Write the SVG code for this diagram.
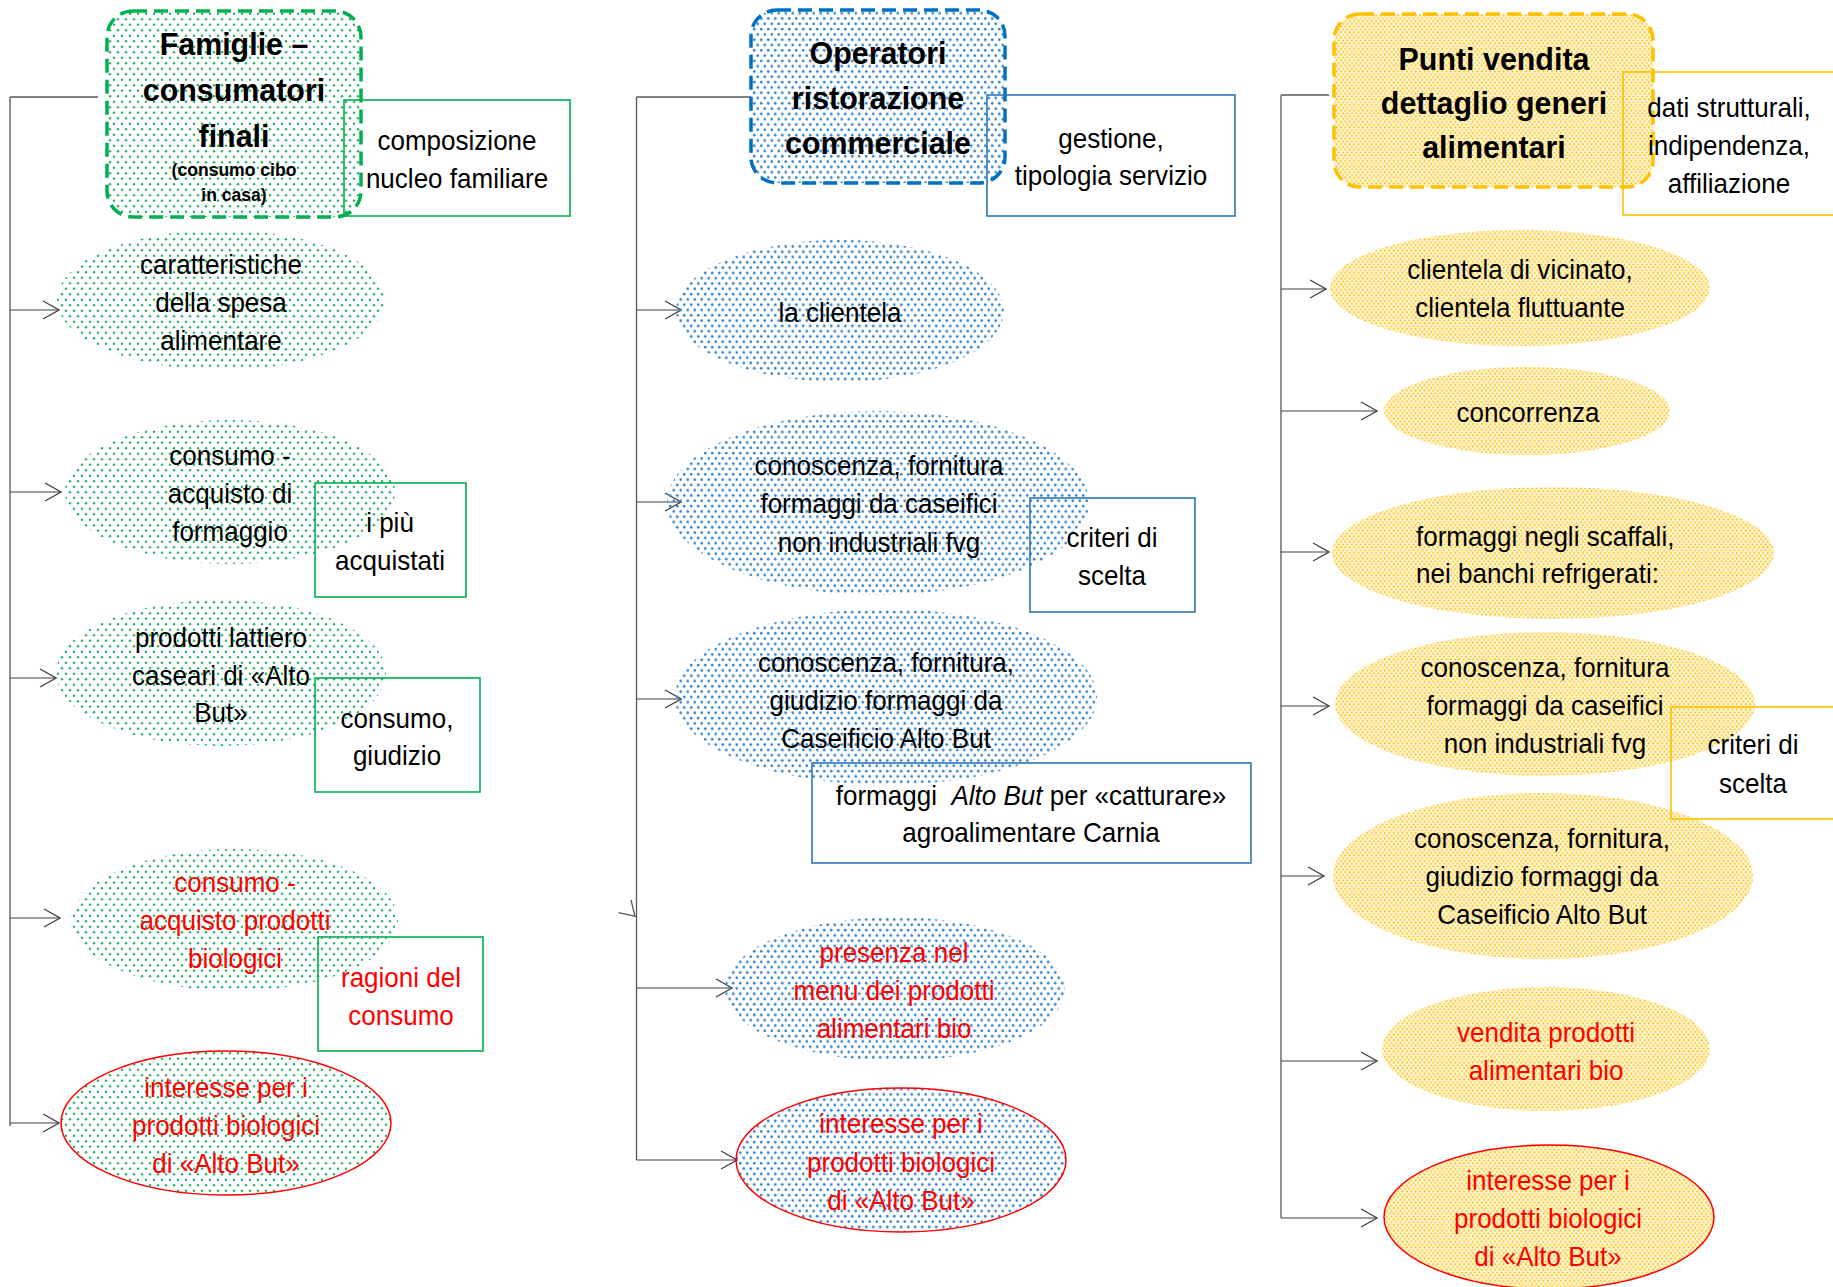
<svg xmlns="http://www.w3.org/2000/svg" width="1833" height="1287" viewBox="0 0 1833 1287">
<style>
.t{font-family:"Liberation Sans",Arial,sans-serif;font-size:28px;text-anchor:middle;fill:#000}
.r{fill:#FF0000}
.h{font-weight:bold;font-size:32px}
.s{font-weight:bold;font-size:18.5px}
.ln{fill:none;stroke:#595959;stroke-width:1.3}
.ar{fill:none;stroke:#404040;stroke-width:1.1;marker-end:url(#arr)}
.hg{fill:url(#dg);stroke:#00B050;stroke-width:3.5;stroke-dasharray:14 7}
.hb{fill:url(#db);stroke:#0070C0;stroke-width:3.5;stroke-dasharray:14 7}
.hy{fill:url(#dy);stroke:#FFC000;stroke-width:3.5;stroke-dasharray:14 7}
.bg{fill:none;stroke:#00B050;stroke-width:1.6}
.bb{fill:none;stroke:#2E75B6;stroke-width:1.6}
.by{fill:none;stroke:#FFC000;stroke-width:1.6}
.eg{fill:url(#dg)}
.eb{fill:url(#db)}
.ey{fill:url(#dy)}
.rs{stroke:#FF0000;stroke-width:1.5}
</style>
<defs>
<pattern id="dg" width="8" height="11" patternUnits="userSpaceOnUse"><circle cx="2" cy="2.75" r="1.25" fill="#2DB56A"/><circle cx="6" cy="8.25" r="1.25" fill="#2DB56A"/></pattern>
<pattern id="db" width="7" height="10.6" patternUnits="userSpaceOnUse"><circle cx="1.75" cy="2.65" r="1.4" fill="#3D8AD0"/><circle cx="5.25" cy="7.95" r="1.4" fill="#3D8AD0"/></pattern>
<pattern id="dy" width="4.4" height="5.6" patternUnits="userSpaceOnUse"><rect width="4.4" height="5.6" fill="#FFC000" fill-opacity="0.12"/><circle cx="1.1" cy="1.4" r="1.05" fill="#FFC000"/><circle cx="3.3" cy="4.2" r="1.05" fill="#FFC000"/></pattern>
<marker id="arr" viewBox="0 0 18 20" refX="17" refY="10" markerWidth="18" markerHeight="20" markerUnits="userSpaceOnUse" orient="auto"><path d="M1,1 L17,10 L1,19" fill="none" stroke="#404040" stroke-width="1.2"/></marker>
</defs>
<rect width="1833" height="1287" fill="#fff"/>
<g id="connectors">
<path class="ln" d="M10,97 H98 M10,97 V1126"/>
<path class="ar" d="M10,310 H59"/>
<path class="ar" d="M10,492 H61"/>
<path class="ar" d="M10,678 H56"/>
<path class="ar" d="M10,918 H60"/>
<path class="ar" d="M10,1123 H59"/>
<path class="ln" d="M636.5,97 H751 M636.5,97 V1160"/>
<path class="ar" d="M636.5,310 H681"/>
<path class="ar" d="M636.5,502 H681"/>
<path class="ar" d="M636.5,699 H681"/>
<path class="ar" d="M636.5,988 H732"/>
<path class="ar" d="M636.5,1160 H737"/>
<path class="ln" d="M618.6,912.7 L636.5,916.7 M631,900 L635,916.7"/>
<path class="ln" d="M1281,95 H1329 M1281,95 V1218"/>
<path class="ar" d="M1281,289 H1326"/>
<path class="ar" d="M1281,411 H1377"/>
<path class="ar" d="M1281,552 H1329"/>
<path class="ar" d="M1281,706 H1329"/>
<path class="ar" d="M1281,876 H1324"/>
<path class="ar" d="M1281,1061 H1377"/>
<path class="ar" d="M1281,1218 H1377"/>
</g>
<g id="famiglie"><rect class="hg" x="107" y="11" width="254" height="206" rx="26"/><text class="t h" transform="translate(234 0) scale(0.95 1)"><tspan x="0" y="55">Famiglie –</tspan><tspan x="0" y="101">consumatori</tspan><tspan x="0" y="147">finali</tspan><tspan x="0" y="176" class="s">(consumo cibo</tspan><tspan x="0" y="201" class="s">in casa)</tspan></text></g>
<g id="caratteristiche"><ellipse class="eg" cx="221" cy="300" rx="164" ry="70"/><text class="t" transform="translate(221 0) scale(0.93 1)"><tspan x="0" y="274">caratteristiche</tspan><tspan x="0" y="312">della spesa</tspan><tspan x="0" y="350">alimentare</tspan></text></g>
<g id="consumo-formaggio"><ellipse class="eg" cx="230" cy="492" rx="165" ry="72"/><text class="t" transform="translate(230 0) scale(0.93 1)"><tspan x="0" y="465">consumo -</tspan><tspan x="0" y="503">acquisto di</tspan><tspan x="0" y="541">formaggio</tspan></text></g>
<g id="lattiero"><ellipse class="eg" cx="221" cy="673" rx="165" ry="73"/><text class="t" transform="translate(221 0) scale(0.93 1)"><tspan x="0" y="647">prodotti lattiero</tspan><tspan x="0" y="685">caseari di «Alto</tspan><tspan x="0" y="722">But»</tspan></text></g>
<g id="bio-consumo"><ellipse class="eg" cx="235" cy="920" rx="163" ry="71"/><text class="t r" transform="translate(235 0) scale(0.93 1)"><tspan x="0" y="892">consumo -</tspan><tspan x="0" y="930">acquisto prodotti</tspan><tspan x="0" y="968">biologici</tspan></text></g>
<g id="interesse-famiglie"><ellipse class="eg rs" cx="226" cy="1123" rx="165" ry="72"/><text class="t r" transform="translate(226 0) scale(0.93 1)"><tspan x="0" y="1097">interesse per i</tspan><tspan x="0" y="1135">prodotti biologici</tspan><tspan x="0" y="1173">di «Alto But»</tspan></text></g>
<g id="operatori"><rect class="hb" x="751" y="10" width="254" height="173" rx="26"/><text class="t h" transform="translate(878 0) scale(0.95 1)"><tspan x="0" y="64">Operatori</tspan><tspan x="0" y="109">ristorazione</tspan><tspan x="0" y="154">commerciale</tspan></text></g>
<g id="clientela"><ellipse class="eb" cx="840" cy="311" rx="164" ry="71"/><text class="t" transform="translate(840 0) scale(0.93 1)"><tspan x="0" y="322">la clientela</tspan></text></g>
<g id="conoscenza-op"><ellipse class="eb" cx="878" cy="503" rx="211" ry="92"/><text class="t" transform="translate(879 0) scale(0.93 1)"><tspan x="0" y="475">conoscenza, fornitura</tspan><tspan x="0" y="513">formaggi da caseifici</tspan><tspan x="0" y="552">non industriali fvg</tspan></text></g>
<g id="giudizio-op"><ellipse class="eb" cx="886" cy="697" rx="211" ry="88"/><text class="t" transform="translate(886 0) scale(0.93 1)"><tspan x="0" y="672">conoscenza, fornitura,</tspan><tspan x="0" y="710">giudizio formaggi da</tspan><tspan x="0" y="748">Caseificio Alto But</tspan></text></g>
<g id="menu-bio"><ellipse class="eb" cx="895" cy="989" rx="170" ry="72"/><text class="t r" transform="translate(894 0) scale(0.93 1)"><tspan x="0" y="962">presenza nel</tspan><tspan x="0" y="1000">menu dei prodotti</tspan><tspan x="0" y="1038">alimentari bio</tspan></text></g>
<g id="interesse-op"><ellipse class="eb rs" cx="901" cy="1160" rx="165" ry="72"/><text class="t r" transform="translate(901 0) scale(0.93 1)"><tspan x="0" y="1133">interesse per i</tspan><tspan x="0" y="1172">prodotti biologici</tspan><tspan x="0" y="1210">di «Alto But»</tspan></text></g>
<g id="punti-vendita"><rect class="hy" x="1334" y="14" width="319" height="173" rx="26"/><text class="t h" transform="translate(1494 0) scale(0.95 1)"><tspan x="0" y="70">Punti vendita</tspan><tspan x="0" y="114">dettaglio generi</tspan><tspan x="0" y="158">alimentari</tspan></text></g>
<g id="vicinato"><ellipse class="ey" cx="1520" cy="288" rx="190" ry="58"/><text class="t" transform="translate(1520 0) scale(0.93 1)"><tspan x="0" y="279">clientela di vicinato,</tspan><tspan x="0" y="317">clientela fluttuante</tspan></text></g>
<g id="concorrenza"><ellipse class="ey" cx="1527" cy="411" rx="143" ry="44"/><text class="t" transform="translate(1528 0) scale(0.93 1)"><tspan x="0" y="422">concorrenza</tspan></text></g>
<g id="scaffali"><ellipse class="ey" cx="1553" cy="553" rx="221" ry="66"/><text class="t" style="text-anchor:start" transform="translate(1416 0) scale(0.93 1)"><tspan x="0" y="546">formaggi negli scaffali,</tspan><tspan x="0" y="583">nei banchi refrigerati:</tspan></text></g>
<g id="conoscenza-pv"><ellipse class="ey" cx="1545" cy="704" rx="210" ry="72"/><text class="t" transform="translate(1545 0) scale(0.93 1)"><tspan x="0" y="677">conoscenza, fornitura</tspan><tspan x="0" y="715">formaggi da caseifici</tspan><tspan x="0" y="753">non industriali fvg</tspan></text></g>
<g id="giudizio-pv"><ellipse class="ey" cx="1543" cy="876" rx="210" ry="83"/><text class="t" transform="translate(1542 0) scale(0.93 1)"><tspan x="0" y="848">conoscenza, fornitura,</tspan><tspan x="0" y="886">giudizio formaggi da</tspan><tspan x="0" y="924">Caseificio Alto But</tspan></text></g>
<g id="vendita-bio"><ellipse class="ey" cx="1546" cy="1049" rx="164" ry="62"/><text class="t r" transform="translate(1546 0) scale(0.93 1)"><tspan x="0" y="1042">vendita prodotti</tspan><tspan x="0" y="1080">alimentari bio</tspan></text></g>
<g id="interesse-pv"><ellipse class="ey rs" cx="1549" cy="1217" rx="165" ry="72"/><text class="t r" transform="translate(1548 0) scale(0.93 1)"><tspan x="0" y="1190">interesse per i</tspan><tspan x="0" y="1228">prodotti biologici</tspan><tspan x="0" y="1266">di «Alto But»</tspan></text></g>
<g id="composizione"><rect class="bg" x="344" y="100" width="226" height="116"/><text class="t" transform="translate(457 0) scale(0.93 1)"><tspan x="0" y="150">composizione</tspan><tspan x="0" y="188">nucleo familiare</tspan></text></g>
<g id="piu-acquistati"><rect class="bg" x="315" y="483" width="151" height="114"/><text class="t" transform="translate(390 0) scale(0.93 1)"><tspan x="0" y="532">i più</tspan><tspan x="0" y="570">acquistati</tspan></text></g>
<g id="consumo-giudizio"><rect class="bg" x="315" y="678" width="165" height="114"/><text class="t" transform="translate(397 0) scale(0.93 1)"><tspan x="0" y="728">consumo,</tspan><tspan x="0" y="765">giudizio</tspan></text></g>
<g id="ragioni"><rect class="bg" x="318" y="937" width="165" height="114"/><text class="t r" transform="translate(401 0) scale(0.93 1)"><tspan x="0" y="987">ragioni del</tspan><tspan x="0" y="1025">consumo</tspan></text></g>
<g id="gestione"><rect class="bb" x="987" y="95" width="248" height="121"/><text class="t" transform="translate(1111 0) scale(0.93 1)"><tspan x="0" y="148">gestione,</tspan><tspan x="0" y="185">tipologia servizio</tspan></text></g>
<g id="criteri-op"><rect class="bb" x="1030" y="498" width="165" height="114"/><text class="t" transform="translate(1112 0) scale(0.93 1)"><tspan x="0" y="547">criteri di</tspan><tspan x="0" y="585">scelta</tspan></text></g>
<g id="catturare"><rect class="bb" x="812" y="763" width="439" height="100"/><text class="t" transform="translate(1031 0) scale(0.93 1)"><tspan x="0" y="805">formaggi&#160; <tspan font-style="italic">Alto But</tspan> per «catturare»</tspan><tspan x="0" y="842">agroalimentare Carnia</tspan></text></g>
<g id="dati"><rect class="by" x="1623" y="72" width="220" height="143"/><text class="t" transform="translate(1729 0) scale(0.93 1)"><tspan x="0" y="117">dati strutturali,</tspan><tspan x="0" y="155">indipendenza,</tspan><tspan x="0" y="193">affiliazione</tspan></text></g>
<g id="criteri-pv"><rect class="by" x="1671" y="707" width="172" height="112"/><text class="t" transform="translate(1753 0) scale(0.93 1)"><tspan x="0" y="754">criteri di</tspan><tspan x="0" y="793">scelta</tspan></text></g>
</svg>
